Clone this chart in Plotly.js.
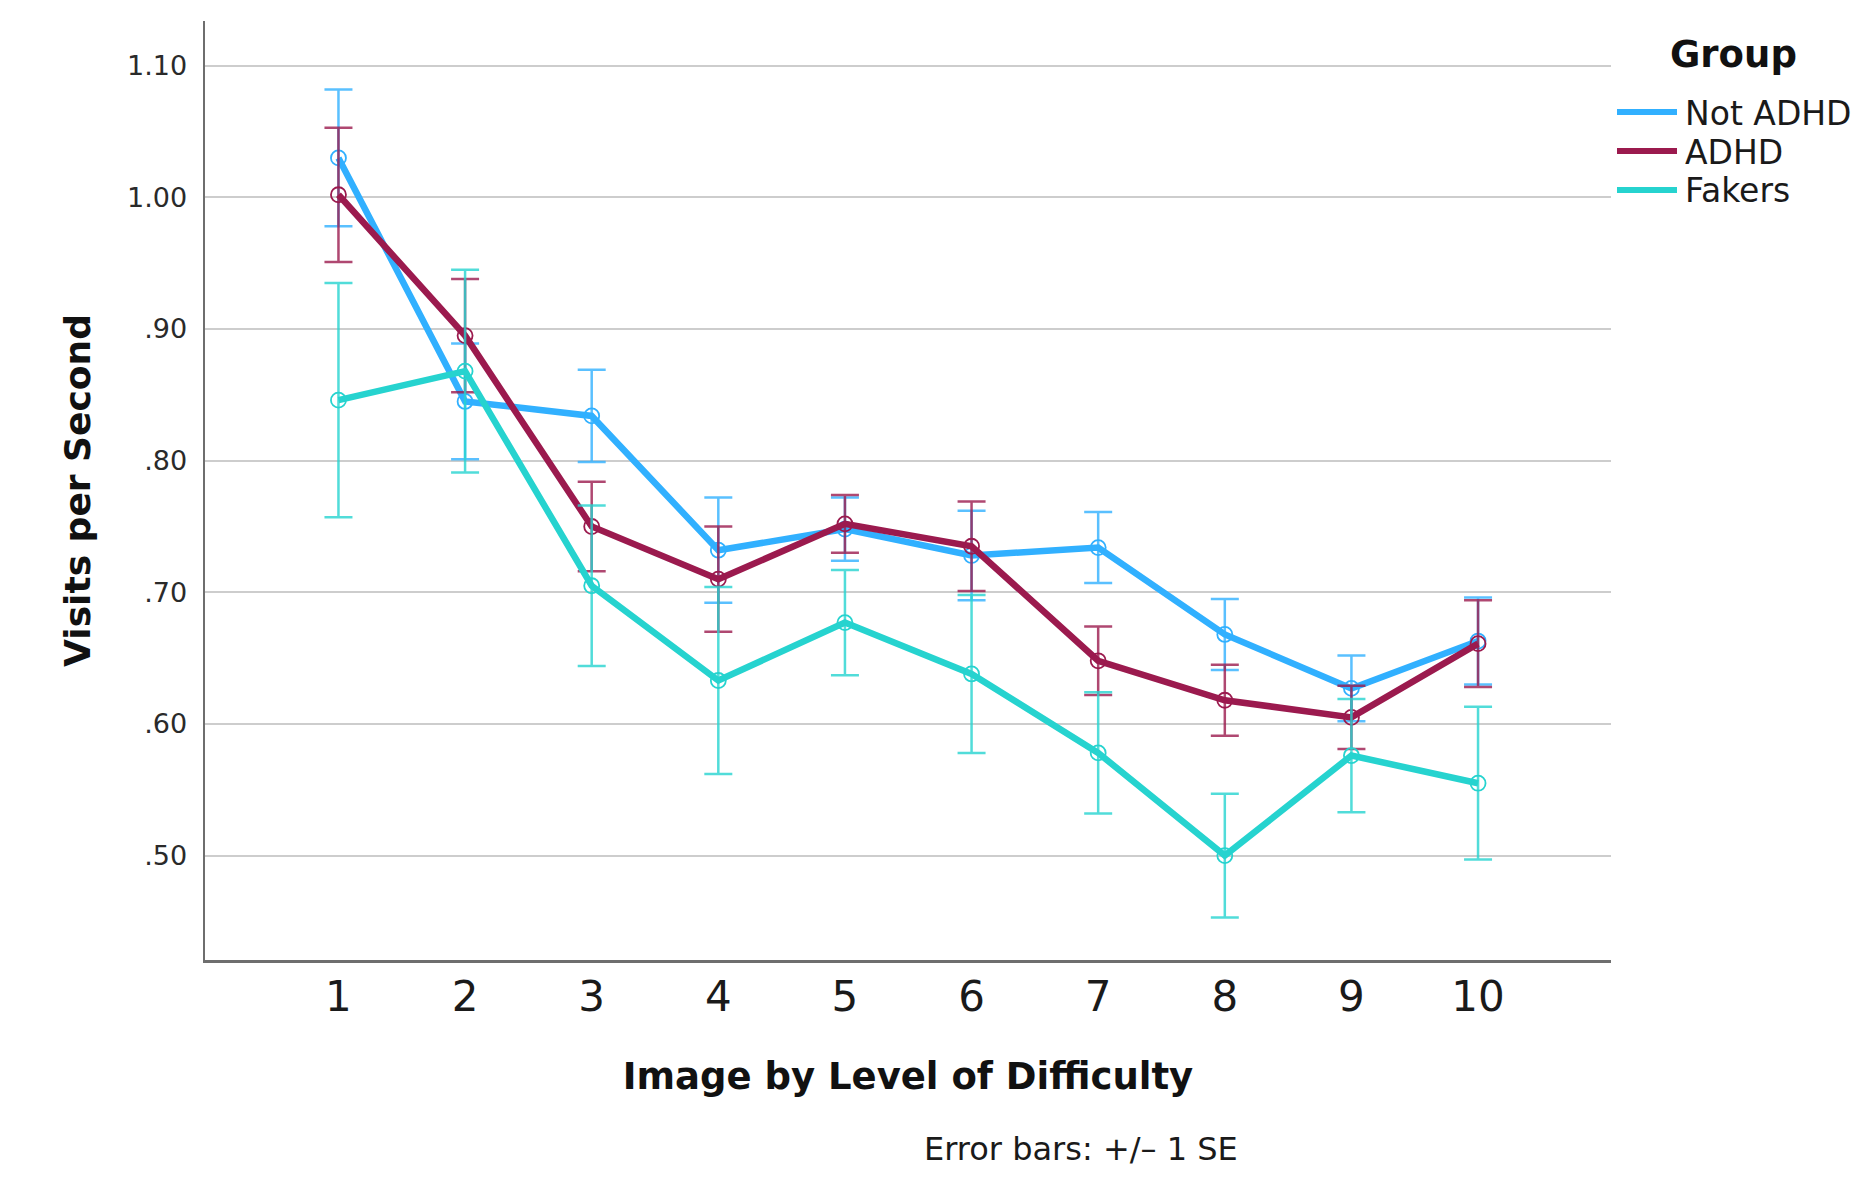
<!DOCTYPE html>
<html>
<head>
<meta charset="utf-8">
<script src="https://cdn.plot.ly/plotly-3.0.1.min.js"></script>
<style>
  html, body { margin: 0; padding: 0; background: #ffffff; }
  #chart { width: 1854px; height: 1177px; }
</style>
</head>
<body>
<div id="chart"></div>
<script>
// ---- data ----
const categories = [1, 2, 3, 4, 5, 6, 7, 8, 9, 10];
const groupNames = ['Not ADHD', 'ADHD', 'Fakers'];
const groupColors = ['#31b0ff', '#9b1a4e', '#26d3cf'];
const barColors = ['rgba(49,176,255,0.8)', 'rgba(155,26,78,0.8)', 'rgba(38,211,207,0.8)'];

const notAdhdMean = [1.030, 0.845, 0.834, 0.732, 0.748, 0.728, 0.734, 0.668, 0.627, 0.663];
const notAdhdSE   = [0.052, 0.044, 0.035, 0.040, 0.024, 0.034, 0.027, 0.027, 0.025, 0.033];
const adhdMean    = [1.002, 0.895, 0.750, 0.710, 0.752, 0.735, 0.648, 0.618, 0.605, 0.661];
const adhdSE      = [0.051, 0.043, 0.034, 0.040, 0.022, 0.034, 0.026, 0.027, 0.024, 0.033];
const fakersMean  = [0.846, 0.868, 0.705, 0.633, 0.677, 0.638, 0.578, 0.500, 0.576, 0.555];
const fakersSE    = [0.089, 0.077, 0.061, 0.071, 0.040, 0.060, 0.046, 0.047, 0.043, 0.058];

const yTickVals = [0.50, 0.60, 0.70, 0.80, 0.90, 1.00, 1.10];
const yTickText = ['.50', '.60', '.70', '.80', '.90', '1.00', '1.10'];
const xTickText = ['1', '2', '3', '4', '5', '6', '7', '8', '9', '10'];

const means = [notAdhdMean, adhdMean, fakersMean];
const ses = [notAdhdSE, adhdSE, fakersSE];

// ---- layout geometry ----
const W = 1854, H = 1177;
const M = { l: 205, r: 243, t: 21, b: 217 };
const PW = W - M.l - M.r, PH = H - M.t - M.b;
const px2x = px => (px - M.l) / PW;
const py2y = py => (H - M.b - py) / PH;

const FONT = 'DejaVu Sans, Verdana, sans-serif';

const traces = groupNames.map((name, i) => ({
  type: 'scatter',
  mode: 'lines+markers',
  name: name,
  x: categories,
  y: means[i],
  line: { color: groupColors[i], width: 6.5 },
  marker: { symbol: 'circle-open', size: 15, color: groupColors[i], line: { width: 1.8, color: groupColors[i] } },
  error_y: { type: 'data', array: ses[i], visible: true, color: barColors[i], thickness: 2.5, width: 14 },
  showlegend: false,
  hoverinfo: 'x+y'
}));

// custom legend (line swatches only, as in the reference)
const shapes = [];
const annotations = [];
const legendRowY = [112, 151, 190];
groupNames.forEach((name, i) => {
  shapes.push({
    type: 'line', xref: 'paper', yref: 'paper',
    x0: px2x(1617), x1: px2x(1677), y0: py2y(legendRowY[i]), y1: py2y(legendRowY[i]),
    line: { color: groupColors[i], width: 6 }
  });
  annotations.push({
    xref: 'paper', yref: 'paper', x: px2x(1683), y: py2y(legendRowY[i] + 1),
    xanchor: 'left', yanchor: 'middle', showarrow: false,
    text: name, font: { family: FONT, size: 33, color: '#1a1a1a' }
  });
});
annotations.push({
  xref: 'paper', yref: 'paper', x: px2x(1733), y: py2y(55),
  xanchor: 'center', yanchor: 'middle', showarrow: false,
  text: '<b>Group</b>', font: { family: FONT, size: 37, color: '#111111' }
});
annotations.push({
  xref: 'paper', yref: 'paper', x: px2x(1081), y: py2y(1149),
  xanchor: 'center', yanchor: 'middle', showarrow: false,
  text: 'Error bars: +/\u2013 1 SE', font: { family: FONT, size: 32, color: '#1a1a1a' }
});

const layout = {
  width: W, height: H,
  margin: M,
  paper_bgcolor: '#ffffff',
  plot_bgcolor: '#ffffff',
  showlegend: false,
  xaxis: {
    range: [-0.054, 11.05],
    tickmode: 'array', tickvals: categories, ticktext: xTickText,
    ticks: '', showgrid: false, zeroline: false,
    showline: true, linecolor: '#6e6e6e', linewidth: 2.5,
    tickfont: { family: FONT, size: 42, color: '#1a1a1a' },
    ticklabelstandoff: -2,
    title: { text: '<b>Image by Level of Difficulty</b>', font: { family: FONT, size: 37, color: '#111111' }, standoff: 43 }
  },
  yaxis: {
    range: [0.4207, 1.134],
    tickmode: 'array', tickvals: yTickVals, ticktext: yTickText,
    ticks: '', showgrid: true, gridcolor: '#cdcdcd', gridwidth: 2, zeroline: false,
    showline: true, linecolor: '#6e6e6e', linewidth: 2.5,
    tickfont: { family: FONT, size: 27, color: '#2a2a2a' },
    ticklabelstandoff: 10,
    title: { text: '<b>Visits per Second</b>', font: { family: FONT, size: 36, color: '#111111' }, standoff: 26 }
  },
  shapes: shapes,
  annotations: annotations
};

Plotly.newPlot('chart', traces, layout, { staticPlot: true, displayModeBar: false });
</script>
</body>
</html>
